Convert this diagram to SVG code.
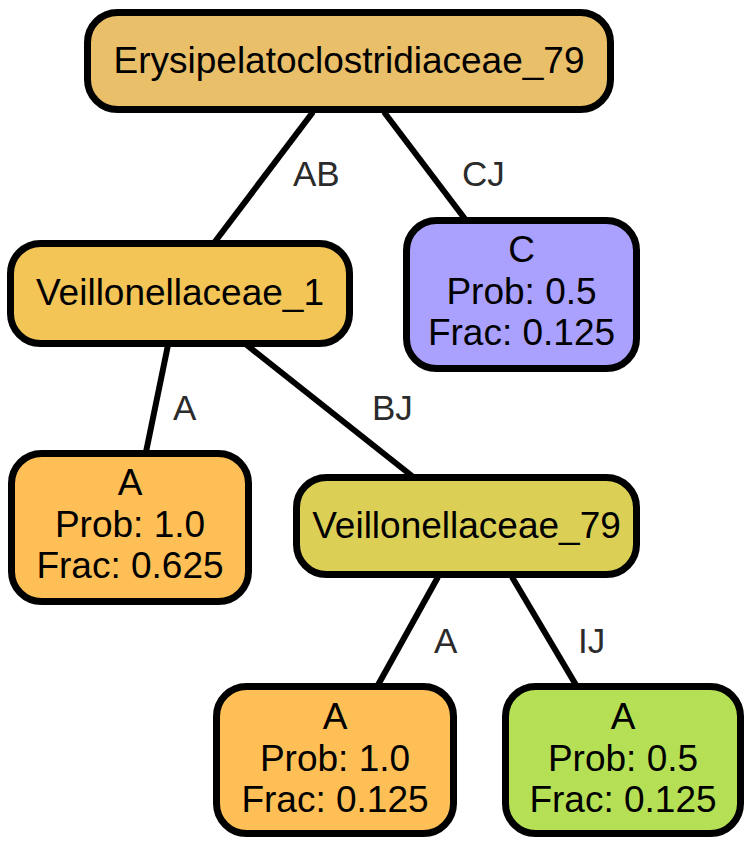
<svg xmlns="http://www.w3.org/2000/svg" width="751" height="846" viewBox="0 0 751 846">
<style>
.node rect{stroke:#000;stroke-width:7}
.node text{font-family:"Liberation Sans",Arial,Helvetica,sans-serif;font-size:37px;fill:#000;text-anchor:middle}
.edges line{stroke:#000;stroke-width:6}
.edges text{font-family:"Liberation Sans",Arial,Helvetica,sans-serif;font-size:35px;fill:#2b2b2b}
</style>
<rect width="751" height="846" fill="#fff"/>
<g id="edges" class="edges">
<line x1="313" y1="112" x2="214" y2="243"/>
<line x1="384" y1="112" x2="465" y2="219"/>
<line x1="168" y1="345" x2="146" y2="452"/>
<line x1="243" y1="342" x2="412" y2="476"/>
<line x1="438" y1="577" x2="378" y2="685"/>
<line x1="512" y1="577" x2="576" y2="685"/>
<text x="293" y="186">AB</text>
<text x="462" y="186">CJ</text>
<text x="173" y="420">A</text>
<text x="372" y="420">BJ</text>
<text x="434" y="653">A</text>
<text x="578" y="653">IJ</text>
</g>
<g id="root" class="node">
<rect x="87.5" y="12.5" width="523" height="97" rx="30" fill="#E9BF6A"/>
<text x="349" y="73">Erysipelatoclostridiaceae_79</text>
</g>
<g id="veillonellaceae_1" class="node">
<rect x="10.5" y="243.5" width="339" height="100" rx="30" fill="#F3C456"/>
<text x="180" y="305">Veillonellaceae_1</text>
</g>
<g id="c_leaf" class="node">
<rect x="406.5" y="220.5" width="230" height="148" rx="30" fill="#AAA0FE"/>
<text x="521.5" y="262">C</text>
<text x="521.5" y="303.5">Prob: 0.5</text>
<text x="521.5" y="345">Frac: 0.125</text>
</g>
<g id="a_leaf_left" class="node">
<rect x="11.5" y="453.5" width="237" height="148" rx="30" fill="#FDBF56"/>
<text x="130" y="495">A</text>
<text x="130" y="537">Prob: 1.0</text>
<text x="130" y="578">Frac: 0.625</text>
</g>
<g id="veillonellaceae_79" class="node">
<rect x="296.5" y="477.5" width="340" height="97" rx="30" fill="#DBD055"/>
<text x="466.5" y="538">Veillonellaceae_79</text>
</g>
<g id="a_leaf_mid" class="node">
<rect x="216.5" y="686.5" width="237" height="147" rx="30" fill="#FDBF56"/>
<text x="335" y="729">A</text>
<text x="335" y="770.5">Prob: 1.0</text>
<text x="335" y="812">Frac: 0.125</text>
</g>
<g id="a_leaf_right" class="node">
<rect x="505.5" y="686.5" width="235" height="147" rx="30" fill="#B5E055"/>
<text x="623" y="729">A</text>
<text x="623" y="770.5">Prob: 0.5</text>
<text x="623" y="812">Frac: 0.125</text>
</g>
</svg>
